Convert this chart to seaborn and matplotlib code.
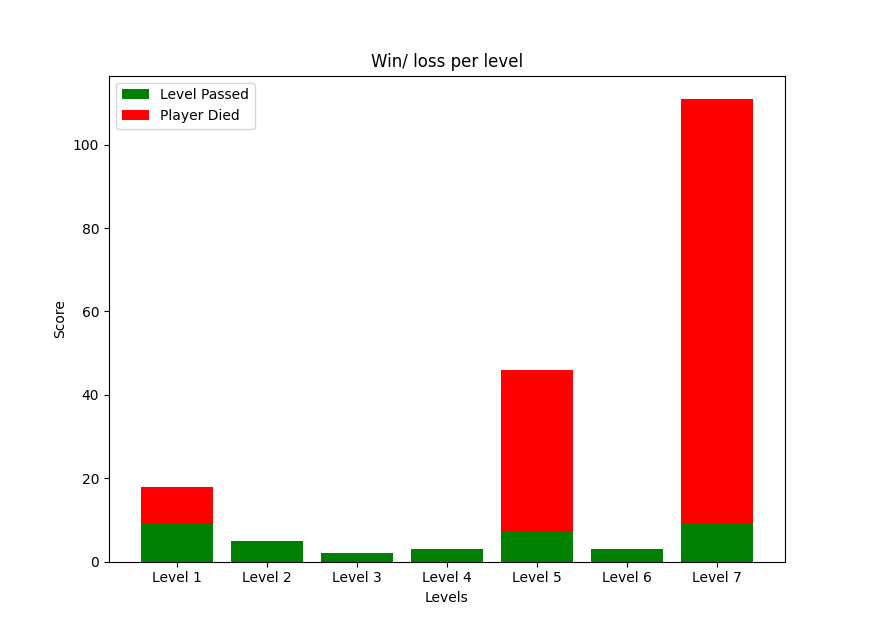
import matplotlib
matplotlib.use("Agg")
import matplotlib.pyplot as plt
import seaborn as sns
import pandas as pd

levels = ["Level 1", "Level 2", "Level 3", "Level 4", "Level 5", "Level 6", "Level 7"]
passed = [9, 5, 2, 3, 7, 3, 9]
died = [9, 0, 0, 0, 39, 0, 102]

df = pd.DataFrame({"level": levels, "passed": passed, "died": died})
df["total"] = df["passed"] + df["died"]

fig, ax = plt.subplots(figsize=(8.72, 6.31), dpi=100)

# stacked: total first (red), then passed (green) on top of it
sns.barplot(data=df, x="level", y="total", color="red", saturation=1, width=0.8,
            label="Player Died", ax=ax)
sns.barplot(data=df, x="level", y="passed", color="green", saturation=1, width=0.8,
            label="Level Passed", ax=ax)

ax.set_xlim(-0.75, 6.75)
ax.set_ylim(0, df["total"].max() * 1.05)
ax.set_title("Win/ loss per level")
ax.set_xlabel("Levels")
ax.set_ylabel("Score")

handles, labels = ax.get_legend_handles_labels()
ax.legend(handles[::-1], labels[::-1], loc="upper left")

plt.savefig("out.png")
